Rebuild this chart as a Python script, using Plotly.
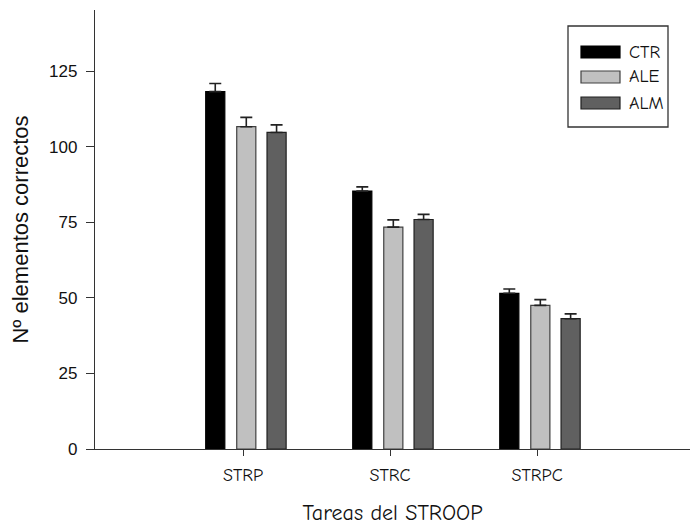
import plotly.graph_objects as go

categories = ["STRP", "STRC", "STRPC"]
series_names = ["CTR", "ALE", "ALM"]
ctr = [118.2, 85.3, 51.5]
ale = [106.6, 73.4, 47.5]
alm = [104.7, 75.9, 43.1]
ctr_err = [2.7, 1.4, 1.4]
ale_err = [3.1, 2.4, 1.9]
alm_err = [2.5, 1.7, 1.6]
y_ticks = [0, 25, 50, 75, 100, 125]

fills = ["#000000", "#c0c0c0", "#606060"]
outlines = ["#000000", "#404040", "#202020"]
offsets = [-0.254, -0.043, 0.163]
BW = 0.13

fig = go.Figure()
for name, vals, errs, fc, lc, off in zip(series_names, [ctr, ale, alm],
                                         [ctr_err, ale_err, alm_err],
                                         fills, outlines, offsets):
    fig.add_trace(go.Bar(
        x=categories, y=vals, name=name, width=BW, offset=off,
        marker=dict(color=fc, line=dict(color=lc, width=1.2)),
        error_y=dict(type="data", array=errs, arrayminus=[0]*len(errs),
                     symmetric=False, color="#222222", thickness=1.6, width=6),
        showlegend=False,
    ))

comic = "Comic Neue, Comic Sans MS, DejaVu Sans, sans-serif"

L, R, T, B = 95, 690, 10, 449

fig.update_layout(
    width=690, height=526,
    margin=dict(l=L, r=690 - R, t=T, b=526 - B),
    paper_bgcolor="white", plot_bgcolor="white",
    barmode="overlay",
    xaxis=dict(
        type="category", range=[-1.007, 3.04],
        showline=True, linecolor="#333333", linewidth=1.3,
        ticks="outside", ticklen=6, tickcolor="#333333",
        ticklabelstandoff=3,
        tickfont=dict(family=comic, size=18, color="#111111"),
        showgrid=False, zeroline=False,
        title=dict(text="Tareas del STROOP", font=dict(family=comic, size=22, color="#111111"), standoff=20),
    ),
    yaxis=dict(
        range=[0, 145.2], tickvals=y_ticks,
        showline=True, linecolor="#333333", linewidth=1.3,
        ticks="outside", ticklen=8, tickcolor="#333333",
        ticklabelstandoff=5,
        tickfont=dict(family="Liberation Sans, Arial", size=17, color="#111111"),
        showgrid=False, zeroline=False,
        title=dict(text="Nº elementos correctos", font=dict(family="Liberation Sans, Arial", size=22, color="#111111"), standoff=14),
    ),
)

# manual legend (styled like the reference); paper coords are relative to the plot area
def px(x): return (x - L) / (R - L)
def py(y): return (B - y) / (B - T)

fig.add_shape(type="rect", xref="paper", yref="paper",
              x0=px(568), x1=px(668), y0=py(127), y1=py(26),
              line=dict(color="#333333", width=1.3), fillcolor="white")
sw_tops = [46, 71, 97]
for name, fc, lc, top in zip(series_names, fills, outlines, sw_tops):
    fig.add_shape(type="rect", xref="paper", yref="paper",
                  x0=px(581), x1=px(620), y0=py(top + 12), y1=py(top),
                  line=dict(color=lc, width=1.2), fillcolor=fc)
    fig.add_annotation(xref="paper", yref="paper", x=px(627), y=py(top + 6),
                       text=name, showarrow=False, xanchor="left", yanchor="middle",
                       font=dict(family=comic, size=18, color="#111111"))

fig.write_html("out.html")
